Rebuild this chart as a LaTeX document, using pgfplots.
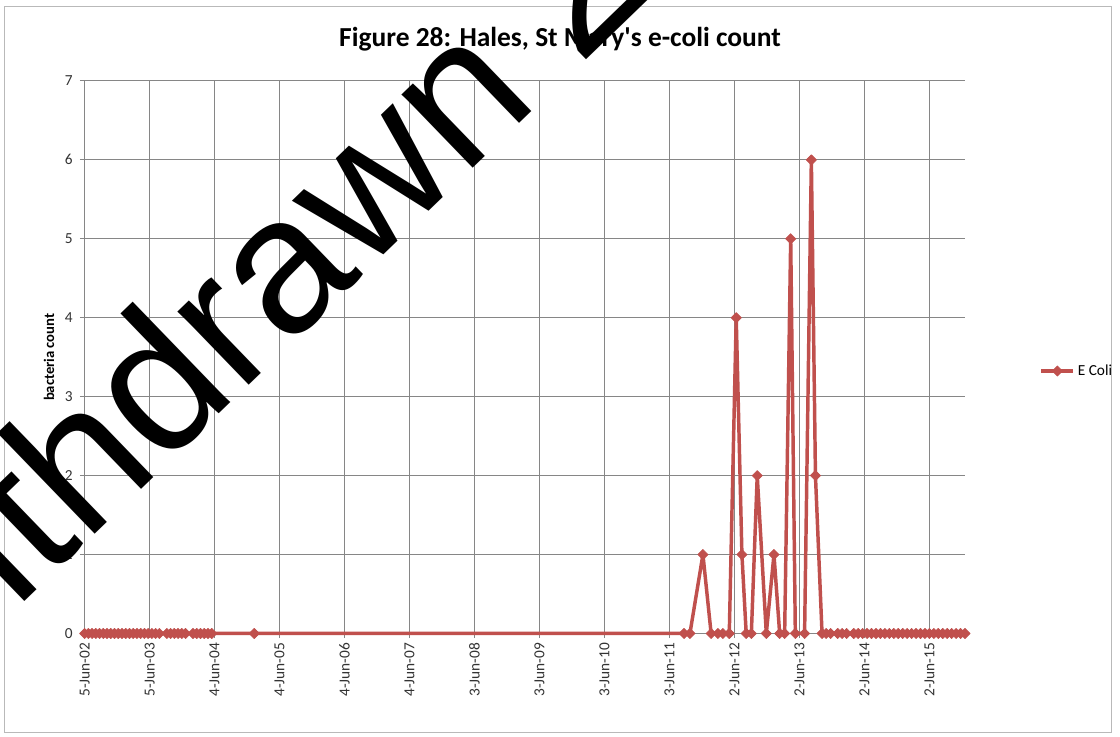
\documentclass[border=0pt]{standalone}
\usepackage{fontspec}
\setmainfont{Carlito}
\newfontfamily\wmfont{Liberation Sans}
\usepackage{pgfplots}
\pgfplotsset{compat=1.18}
\definecolor{ecoli}{RGB}{192,80,77}
\definecolor{gridgray}{RGB}{134,134,134}

% days after 5 Jun 2002, e-coli count
\pgfplotstableread{
day count
0 0
21 0
42 0
63 0
84 0
105 0
126 0
147 0
168 0
189 0
210 0
231 0
252 0
273 0
294 0
315 0
336 0
357 0
378 0
399 0
420 0
462 0
483 0
504 0
525 0
546 0
567 0
609 0
630 0
651 0
672 0
693 0
714 0
953 0
3367 0
3400 0
3473 1
3519 0
3557 0
3585 0
3621 0
3660 4
3692 1
3716 0
3745 0
3778 2
3829 0
3872 1
3904 0
3932 0
3966 5
3992 0
4044 0
4082 6
4105 2
4142 0
4165 0
4190 0
4230 0
4255 0
4280 0
4320 0
4345 0
4370 0
4395 0
4420 0
4445 0
4470 0
4495 0
4520 0
4545 0
4570 0
4595 0
4620 0
4645 0
4670 0
4695 0
4720 0
4745 0
4770 0
4795 0
4820 0
4845 0
4870 0
4895 0
4920 0
4945 0
}\ecolidata

\begin{document}
\begin{tikzpicture}
\path[use as bounding box] (-63.45pt,-77.6pt) rectangle (776.55pt,475.1pt);
\fill[white] (-63.45pt,-77.6pt) rectangle (776.55pt,475.1pt);
\draw[gray!55, line width=0.75pt] (-60pt,-74.6pt) rectangle (769.8pt,469.9pt);
\begin{axis}[
    at={(0pt,0pt)}, anchor=south west,
    scale only axis,
    width=660.3pt, height=414.4pt,
    xmin=0, xmax=4945,
    ymin=0, ymax=7,
    xtick={0,365,...,4745},
    xticklabels={5-Jun-02,5-Jun-03,4-Jun-04,4-Jun-05,4-Jun-06,4-Jun-07,3-Jun-08,3-Jun-09,3-Jun-10,3-Jun-11,2-Jun-12,2-Jun-13,2-Jun-14,2-Jun-15},
    ytick={0,1,...,7},
    grid=major,
    major grid style={gridgray, line width=0.75pt},
    axis x line*=bottom, axis y line*=left,
    axis line style={gridgray, line width=0.75pt},
    tick style={gridgray, line width=0.75pt},
    tick align=outside, major tick length=3.5pt,
    /pgf/number format/assume math mode=true,
    xticklabel style={rotate=90, anchor=east, font=\fontsize{11.5}{13}\selectfont, text=black!80},
    yticklabel style={font=\fontsize{11.5}{13}\selectfont, text=black!80, xshift=-2pt},
    clip=false,
    legend style={at={(axis description cs:1.0845,0.475)}, anchor=west, draw=none, fill=none,
        font=\fontsize{11.5}{13}\selectfont, inner sep=0pt},
    legend image code/.code={
        \draw[mark repeat=2, mark phase=2, #1] plot coordinates {(0pt,0pt) (12pt,0pt) (24pt,0pt)};
    },
]
\addplot[ecoli, line width=2.6pt, line join=round,
    mark=square*, mark size=2.7pt,
    mark options={rotate=45, solid, fill=ecoli, draw=ecoli, line width=0.5pt}]
    table[x=day, y=count] {\ecolidata};
\addlegendentry{E Coli}
\end{axis}
\node[font=\bfseries\fontsize{20.6}{24}\selectfont] at (356.6pt,446pt)
    {Figure 28: Hales, St Mary\textquotesingle s e-coli count};
\node[rotate=90, font=\bfseries\fontsize{11}{13}\selectfont] at (-26.7pt,207.2pt) {bacteria count};
\node[rotate=44, anchor=base west, inner sep=0pt, text=black,
    font=\wmfont\fontsize{145}{150}\selectfont] at (-150.3pt,-78.2pt) {Withdrawn 2};
\end{tikzpicture}
\end{document}
